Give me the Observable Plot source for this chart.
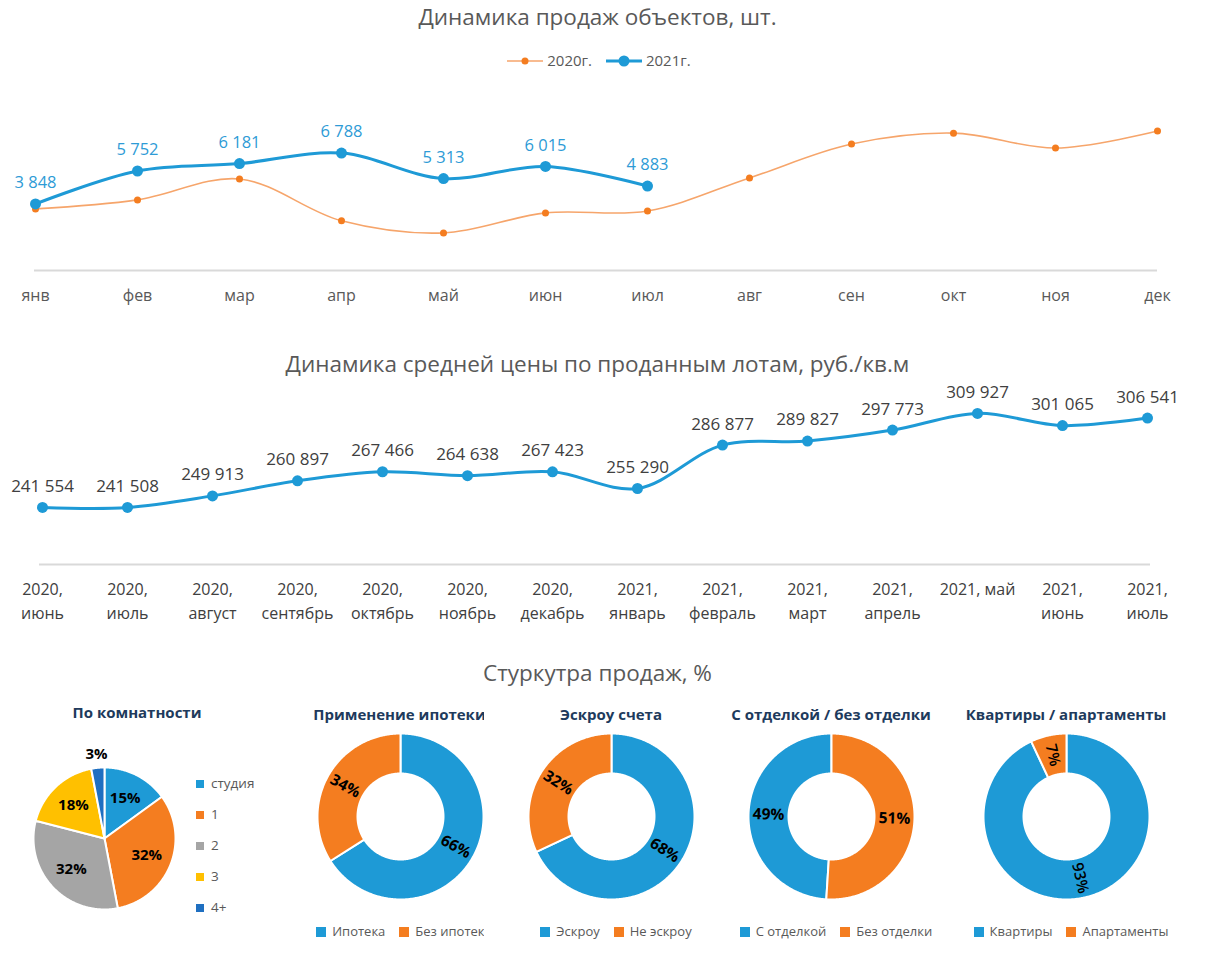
<!DOCTYPE html>
<html><head><meta charset="utf-8">
<script src="https://cdn.jsdelivr.net/npm/d3@7"></script>
<script src="https://cdn.jsdelivr.net/npm/@observablehq/plot@0.6"></script>
<style>
body{margin:0;background:#fff;font-family:"Open Sans",sans-serif;}
#root{position:relative;width:1223px;height:954px;overflow:hidden;background:#fff;}
.abs{position:absolute;}
.title{color:#595959;font-size:22.5px;text-align:center;width:1195px;left:0;white-space:nowrap;}
.sub{color:#203a5c;font-weight:bold;font-size:15px;white-space:nowrap;text-align:center;}
.leg{display:flex;gap:14px;justify-content:center;color:#595959;font-size:13px;white-space:nowrap;}
.leg span.sw{display:inline-block;width:10px;height:10px;margin-right:6px;vertical-align:-1px;}
</style></head>
<body><div id="root"></div>
<script>
// ---------- data ----------
const months = ["янв","фев","мар","апр","май","июн","июл","авг","сен","окт","ноя","дек"];
const sales2020 = [3560,4080,5290,2870,2170,3330,3440,5350,7310,7940,7080,8060];
const sales2021 = [3848,5752,6181,6788,5313,6015,4883];
const seriesNames = ["2020г.","2021г."];

const priceCats = ["2020,\nиюнь","2020,\nиюль","2020,\nавгуст","2020,\nсентябрь","2020,\nоктябрь","2020,\nноябрь","2020,\nдекабрь","2021,\nянварь","2021,\nфевраль","2021,\nмарт","2021,\nапрель","2021, май","2021,\nиюнь","2021,\nиюль"];
const priceValues = [241554,241508,249913,260897,267466,264638,267423,255290,286877,289827,297773,309927,301065,306541];

const roomCats = ["студия","1","2","3","4+"];
const roomShares = [15,32,32,18,3];
const mortgageCats = ["Ипотека","Без ипотеки"];
const mortgageShares = [66,34];
const escrowCats = ["Эскроу","Не эскроу"];
const escrowShares = [68,32];
const finishCats = ["С отделкой","Без отделки"];
const finishShares = [49,51];
const aptCats = ["Квартиры","Апартаменты"];
const aptShares = [93,7];

const titles = ["Динамика продаж объектов, шт.","Динамика средней цены по проданным лотам, руб./кв.м","Стуркутра продаж, %"];
const subTitles = ["По комнатности","Применение ипотеки","Эскроу счета","С отделкой / без отделки","Квартиры / апартаменты"];

// ---------- styles ----------
const BLUE = "#1e9ad6", ORANGE = "#f47d20";
const roomColors = [BLUE, ORANGE, "#a5a5a5", "#ffc000", "#1f6fc1"];
const pairColors = [BLUE, ORANGE];
const root = document.getElementById("root");
const fmt = v => d3.format(",")(v).replace(/,/g, " ");
function add(html, cls, css) { const d = document.createElement("div"); d.className = cls; d.style.cssText = css; d.innerHTML = html; root.appendChild(d); return d; }

// ---------- chart 1 ----------
add(titles[0], "abs title", "top:1px;");
add(`<div style="display:flex;justify-content:center;gap:14px;color:#595959;font-size:15px;">
<span><svg width="36" height="10" style="vertical-align:0px"><line x1="0" y1="5" x2="36" y2="5" stroke="#f6a56b" stroke-width="1.5"/><circle cx="18" cy="5" r="3.5" fill="${ORANGE}"/></svg> ${seriesNames[0]}</span>
<span><svg width="36" height="12" style="vertical-align:-1px"><line x1="0" y1="6" x2="36" y2="6" stroke="${BLUE}" stroke-width="3"/><circle cx="18" cy="6" r="5.5" fill="${BLUE}"/></svg> ${seriesNames[1]}</span></div>`,
  "abs", "top:50px;left:0;width:1198px;");

const d2020 = months.map((m, i) => ({m, v: sales2020[i]}));
const d2021 = sales2021.map((v, i) => ({m: months[i], v}));
const c1 = Plot.plot({
  width: 1223, height: 240,
  marginLeft: 34, marginRight: 66, marginTop: 17, marginBottom: 50,
  style: {fontFamily: "Open Sans", background: "transparent"},
  x: {type: "point", domain: months, padding: 0, axis: null},
  y: {domain: [0, 10000], axis: null},
  marks: [
    Plot.ruleY([0], {stroke: "#d9d9d9", strokeWidth: 2}),
    Plot.line(d2020, {x: "m", y: "v", stroke: "#f6a56b", strokeWidth: 1.6, curve: "catmull-rom"}),
    Plot.dot(d2020, {x: "m", y: "v", r: 3.5, fill: ORANGE}),
    Plot.line(d2021, {x: "m", y: "v", stroke: BLUE, strokeWidth: 3, curve: "catmull-rom"}),
    Plot.dot(d2021, {x: "m", y: "v", r: 5.5, fill: BLUE}),
    Plot.text(d2021, {x: "m", y: "v", text: d => fmt(d.v), dy: -21, fill: "#2e9bd6", fontSize: 16.5}),
    Plot.axisX({tickSize: 0, tickPadding: 19, fontSize: 16, fill: "#595959", label: null})
  ]
});
const w1 = add("", "abs", "top:80px;left:0;"); w1.appendChild(c1);

// ---------- chart 2 ----------
add(titles[1], "abs title", "top:348px;");
const dp = priceCats.map((c, i) => ({c, v: priceValues[i]}));
const c2 = Plot.plot({
  width: 1223, height: 270,
  marginLeft: 39, marginRight: 73, marginTop: 15.3, marginBottom: 76,
  style: {fontFamily: "Open Sans", background: "transparent"},
  x: {type: "point", domain: priceCats, padding: 0, axis: null},
  y: {domain: [200000, 330000], axis: null},
  marks: [
    Plot.ruleY([200000], {stroke: "#d9d9d9", strokeWidth: 2}),
    Plot.line(dp, {x: "c", y: "v", stroke: BLUE, strokeWidth: 3, curve: "catmull-rom"}),
    Plot.dot(dp, {x: "c", y: "v", r: 5.5, fill: BLUE}),
    Plot.text(dp, {x: "c", y: "v", text: d => fmt(d.v), dy: -21, fill: "#404040", fontSize: 17}),
    Plot.axisX({tickSize: 0, tickPadding: 13, fontSize: 16, lineHeight: 1.5, fill: "#404040", label: null})
  ]
});
const w2 = add("", "abs", "top:370px;left:0;"); w2.appendChild(c2);

// ---------- section 3 ----------
add(titles[2], "abs title", "top:657px;");

function ring({cats, shares, colors, R, r0, start = 0, labelSize = 15, labelWeight = "bold", outsideBelow = 5}) {
  const size = 2 * R + 60;
  const total = d3.sum(shares);
  const st = start * 2 * Math.PI;
  let acc = 0;
  const slices = [], labels = [];
  shares.forEach((v, i) => {
    const a0 = st + acc / total * 2 * Math.PI;
    acc += v;
    const a1 = st + acc / total * 2 * Math.PI;
    const n = Math.max(2, Math.ceil((a1 - a0) / 0.01));
    const pts = [];
    for (let k = 0; k <= n; k++) { const a = a0 + (a1 - a0) * k / n; pts.push([R * Math.sin(a), R * Math.cos(a)]); }
    if (r0 > 0) for (let k = n; k >= 0; k--) { const a = a0 + (a1 - a0) * k / n; pts.push([r0 * Math.sin(a), r0 * Math.cos(a)]); }
    else pts.push([0, 0]);
    pts.push(pts[0]);
    slices.push({color: colors[i], pts});
    const am = (a0 + a1) / 2;
    let lr, rot = 0;
    if (r0 > 0) {
      lr = (R + r0) / 2;
      rot = am * 180 / Math.PI - 90;
      while (rot > 90) rot -= 180;
      while (rot <= -90) rot += 180;
    } else lr = v < outsideBelow ? R + 14 : 0.64 * R;
    labels.push({x: lr * Math.sin(am), y: lr * Math.cos(am), t: v + "%", rot});
  });
  return Plot.plot({
    width: size, height: size, margin: 0,
    style: {fontFamily: "Open Sans", background: "transparent", overflow: "visible"},
    x: {domain: [-size / 2, size / 2], axis: null},
    y: {domain: [-size / 2, size / 2], axis: null},
    marks: [
      ...slices.map(s => Plot.line(s.pts, {x: d => d[0], y: d => d[1], fill: s.color, stroke: "white", strokeWidth: 2, curve: "linear"})),
      Plot.text(labels, {x: "x", y: "y", text: "t", rotate: "rot", fontSize: labelSize, fontWeight: labelWeight, fill: "#000"})
    ]
  });
}
function place(chart, cx, cy, R) { const d = add("", "abs", `left:${cx - R - 30}px;top:${cy - R - 30}px;`); d.appendChild(chart); }
function legendRow(cats, colors) { return cats.map((c, i) => `<span><span class="sw" style="background:${colors[i]}"></span>${c}</span>`).join(""); }

// pie: rooms
add(subTitles[0], "abs sub", "left:37px;top:702px;width:200px;");
place(ring({cats: roomCats, shares: roomShares, colors: roomColors, R: 71, r0: 0}), 103.5, 838, 71);
add(roomCats.map((c, i) => `<div style="height:31px;line-height:31px;"><span class="sw" style="display:inline-block;width:8px;height:8px;margin-right:7px;background:${roomColors[i]}"></span>${c}</div>`).join(""),
  "abs", "left:196px;top:768px;color:#595959;font-size:13.5px;");

// donuts
const donuts = [
  {cats: mortgageCats, shares: mortgageShares, cx: 399.5},
  {cats: escrowCats, shares: escrowShares, cx: 611},
  {cats: finishCats, shares: finishShares, cx: 831, start: -finishShares[0] / 100},
  {cats: aptCats, shares: aptShares, cx: 1066, labelWeight: "600", labelSize: 15.5}
];
donuts.forEach((d, i) => {
  place(ring({cats: d.cats, shares: d.shares, colors: pairColors, R: 83, r0: 43, start: d.start || 0, labelWeight: d.labelWeight || "bold", labelSize: d.labelSize || 15.5}), d.cx, 816, 83);
  const clip = i === 0 ? "width:194px;left:290px;" : `width:240px;left:${d.cx - 120}px;`;
  const box = add("", "abs", clip + "top:700px;height:250px;overflow:hidden;");
  const off = i === 0 ? d.cx - 290 : 120;
  box.innerHTML = `<div class="sub" style="position:absolute;left:${off - 120}px;width:240px;top:4px;">${subTitles[i + 1]}</div>
  <div class="leg" style="position:absolute;left:${off - 115}px;width:240px;top:222px;">${legendRow(d.cats, pairColors)}</div>`;
});
</script></body></html>
